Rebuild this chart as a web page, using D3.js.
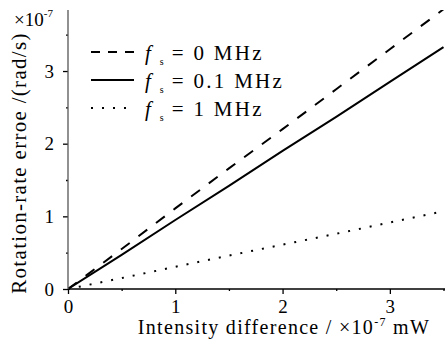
<!DOCTYPE html>
<html>
<head>
<meta charset="utf-8">
<script src="https://cdn.jsdelivr.net/npm/d3@7"></script>
<style>
  body { margin: 0; background: #fff; }
  svg { display: block; }
  text { font-family: "Liberation Serif", "Times New Roman", serif; fill: #000; }
</style>
</head>
<body>
<svg id="chart" width="445" height="352"></svg>
<script>
// values (x in 1e-7 mW, y in 1e-7 rad/s)
const xValues = [0, 0.5, 1, 1.5, 2, 2.5, 3, 3.5];
const fs0 = [0, 0.55, 1.11, 1.66, 2.2, 2.75, 3.3, 3.85];
const fs01 = [0, 0.47, 0.95, 1.42, 1.9, 2.37, 2.85, 3.33];
const fs1 = [0, 0.15, 0.305, 0.46, 0.61, 0.76, 0.915, 1.07];
const seriesNames = ["0", "0.1", "1"];
const majorTicks = [0, 1, 2, 3];
const minorTicks = [0.5, 1.5, 2.5, 3.5];

const svg = d3.select("#chart");
const x = d3.scaleLinear().domain([0, 3.5]).range([68, 443.5]);
const y = d3.scaleLinear().domain([0, 3.84]).range([289, 10]);

svg.append("clipPath").attr("id", "clip")
    .append("rect").attr("x", 68).attr("y", 10).attr("width", 377).attr("height", 280);

const series = [
    { vals: fs0, dash: "11,11" },
    { vals: fs01, dash: null },
    { vals: fs1, dash: "2,9" }
];

const line = d3.line().x((d, i) => x(xValues[i])).y(d => y(d));
svg.append("g").attr("clip-path", "url(#clip)")
    .selectAll("path")
    .data(series)
    .enter()
    .append("path")
    .attr("d", d => line(d.vals))
    .attr("fill", "none")
    .attr("stroke", "#000")
    .attr("stroke-width", 2)
    .attr("stroke-dasharray", d => d.dash);

// x axis: major and minor ticks in separate groups
svg.append("g").attr("transform", "translate(0," + y(0) + ")")
    .call(d3.axisBottom(x).tickValues(majorTicks).tickSize(5).tickPadding(6).tickFormat(d3.format("d")));
svg.append("g").attr("transform", "translate(0," + y(0) + ")")
    .call(d3.axisBottom(x).tickValues(minorTicks).tickSize(2).tickFormat(""));
svg.append("line").attr("x1", 68).attr("x2", 445).attr("y1", y(0)).attr("y2", y(0))
    .attr("stroke", "#000").attr("stroke-width", 1.3);

// y axis
svg.append("g").attr("transform", "translate(" + x(0) + ",0)")
    .call(d3.axisLeft(y).tickValues(majorTicks).tickSize(5).tickPadding(9).tickFormat(d3.format("d")));
svg.append("g").attr("transform", "translate(" + x(0) + ",0)")
    .call(d3.axisLeft(y).tickValues(minorTicks).tickSize(2).tickFormat(""));
svg.append("line").attr("x1", x(0)).attr("x2", x(0)).attr("y1", y(0)).attr("y2", 10)
    .attr("stroke", "#555").attr("stroke-width", 1.3);

svg.selectAll(".domain").remove();
svg.selectAll(".tick line").attr("stroke", "#000").attr("stroke-width", 1.3);
svg.selectAll(".tick text").style("font-size", "19px").style("font-family", "Liberation Serif");

// axis titles
svg.append("text")
    .attr("x", 284).attr("y", 334)
    .attr("text-anchor", "middle")
    .style("font-size", "20px")
    .style("letter-spacing", "1.3px")
    .html('Intensity difference / \u00d710<tspan dy="-8" font-size="12">-7</tspan><tspan dy="8"> mW</tspan>');

svg.append("text")
    .attr("transform", "translate(26,163) rotate(-90)")
    .attr("text-anchor", "middle")
    .style("font-size", "21px")
    .style("letter-spacing", "1.3px")
    .text("Rotation-rate erroe /(rad/s)");

svg.append("text")
    .attr("x", 14).attr("y", 26)
    .style("font-size", "19px")
    .html('\u00d710<tspan dy="-9" font-size="11">-7</tspan>');

// legend
const legend = svg.append("g");
const rows = legend.selectAll("g")
    .data(series)
    .enter()
    .append("g")
    .attr("transform", (d, i) => "translate(0," + (52 + i * 28) + ")");
rows.append("line")
    .attr("x1", 91).attr("x2", 134)
    .attr("stroke", "#000").attr("stroke-width", 2)
    .attr("stroke-dasharray", (d, i) => i === 0 ? "9,8" : (i === 2 ? "2,9" : null));
rows.append("text")
    .attr("x", 145).attr("y", 8)
    .style("font-size", "21px")
    .html((d, i) => '<tspan font-style="italic">f</tspan><tspan dx="9" dy="5" font-size="10">s</tspan><tspan dx="8" dy="-5" style="letter-spacing:2.3px">= ' + seriesNames[i] + ' MHz</tspan>');
</script>
</body>
</html>
